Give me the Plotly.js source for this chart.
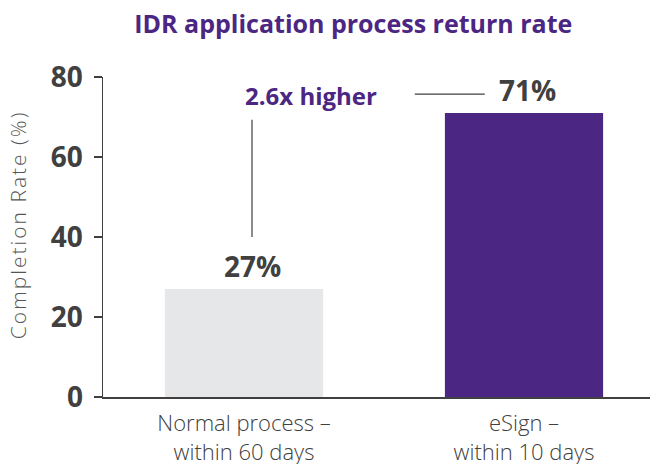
<!DOCTYPE html>
<html>
<head>
<meta charset="utf-8">
<script src="https://cdn.plot.ly/plotly-3.0.1.min.js"></script>
<style>
html,body{margin:0;padding:0;background:#fff;}
#chart{width:658px;height:464px;}
#chart g.annotation[data-index="3"] text{letter-spacing:2px;}
</style>
</head>
<body>
<div id="chart"></div>
<script>
const categories = ["Normal process –<br>within 60 days", "eSign –<br>within 10 days"];
const values = [27, 71];
const valueLabels = ["27%", "71%"];
const barColors = ["#e6e7e8", "#4b2683"];
const yTicks = [0, 20, 40, 60, 80];
const compareLabel = "2.6x higher";
const yAxisTitle = "Completion Rate (%)";

const FONT = "'Open Sans', sans-serif";
const labelShifts = [8, 3];

const trace = {
  type: "bar",
  x: [0, 1],
  y: values,
  width: 0.565,
  marker: {color: barColors},
  hoverinfo: "none"
};

const annotations = values.map((v, i) => ({
  x: i, y: v, xref: "x", yref: "y",
  text: valueLabels[i],
  showarrow: false, yanchor: "bottom", yshift: 2, xshift: labelShifts[i],
  font: {family: FONT, size: 28, color: "#404040", weight: "bold"}
}));
annotations.push({
  x: 0.241, y: 75.5, xref: "x", yref: "y",
  text: compareLabel,
  showarrow: false,
  font: {family: FONT, size: 24, color: "#4b2683", weight: "bold"}
});
annotations.push({
  x: -0.1554, y: 0.54, xref: "paper", yref: "paper",
  text: yAxisTitle, textangle: -90,
  showarrow: false, xanchor: "center", yanchor: "middle",
  font: {family: FONT, size: 21, color: "#555555", weight: 300}
});

const layout = {
  width: 658, height: 464,
  margin: {l: 103, r: 8, t: 77, b: 67},
  paper_bgcolor: "#fff", plot_bgcolor: "#fff",
  showlegend: false,
  title: {
    text: "IDR application process return rate",
    x: 0.537, xanchor: "center", y: 0.948, yanchor: "middle",
    font: {family: FONT, size: 25, color: "#4b2683", weight: "bold"}
  },
  xaxis: {
    range: [-0.5036, 1.45],
    tickvals: [0, 1], ticktext: categories,
    showline: true, linecolor: "#404040", linewidth: 1.5,
    ticks: "", showgrid: false, zeroline: false,
    ticklabelstandoff: 6,
    tickfont: {family: FONT, size: 22, color: "#404040", weight: 300},
    fixedrange: true
  },
  yaxis: {
    range: [0, 80],
    tickvals: yTicks,
    showline: true, linecolor: "#404040", linewidth: 1.5,
    ticks: "outside", ticklen: 8, tickwidth: 1.5, tickcolor: "#404040",
    showgrid: false, zeroline: false,
    ticklabelstandoff: 5,
    tickfont: {family: FONT, size: 28, color: "#404040", weight: "bold"},
    fixedrange: true
  },
  shapes: [
    {type: "line", xref: "x", yref: "y", x0: 0.0286, x1: 0.0286, y0: 40, y1: 69.3,
     line: {color: "#404040", width: 1.2}},
    {type: "line", xref: "x", yref: "y", x0: 0.61, x1: 0.86, y0: 75.7, y1: 75.7,
     line: {color: "#404040", width: 1.2}}
  ],
  annotations: annotations
};

Plotly.newPlot("chart", [trace], layout, {displayModeBar: false, staticPlot: true});
</script>
</body>
</html>
